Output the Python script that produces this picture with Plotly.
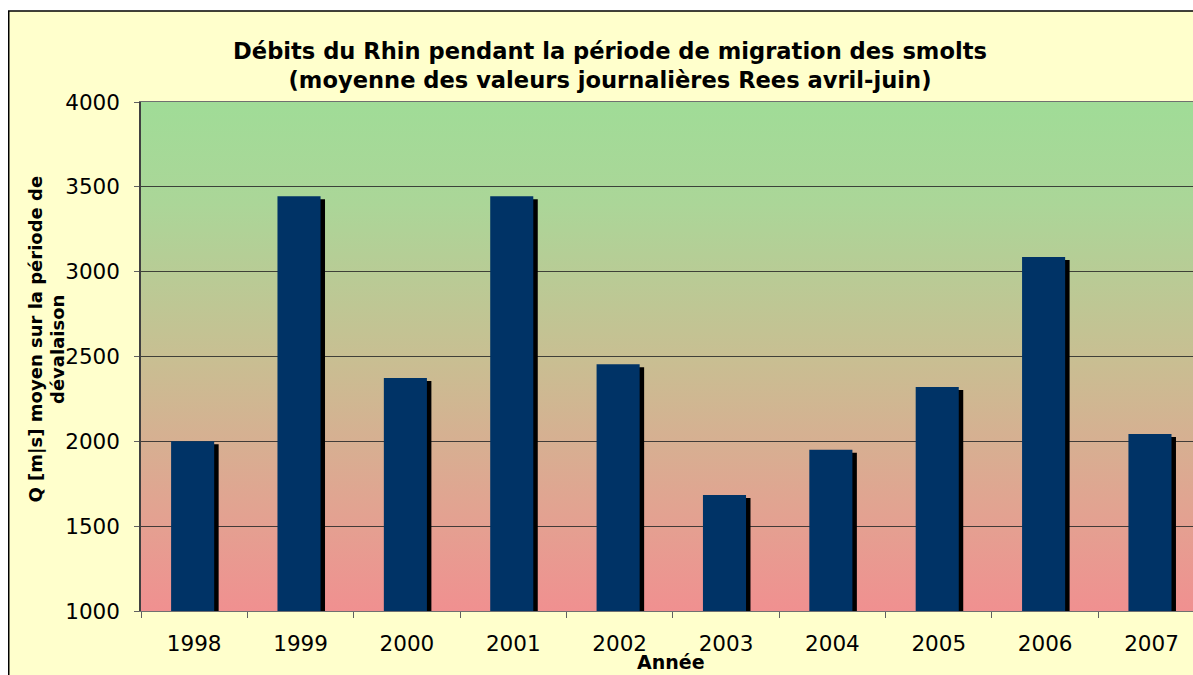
import base64
import plotly.graph_objects as go

# ---- data ----
years = ["1998", "1999", "2000", "2001", "2002", "2003", "2004", "2005", "2006", "2007"]
debits = [2000, 3445, 2373, 3445, 2455, 1684, 1950, 2320, 3086, 2043]
y_ticks = [1000, 1500, 2000, 2500, 3000, 3500, 4000]

title_text = ("Débits du Rhin pendant la période de migration des smolts<br>"
              "(moyenne des valeurs journalières Rees avril-juin)")
y_title_1 = "Q [m|s] moyen sur la période de"
y_title_2 = "dévalaison"
x_title = "Année"

# ---- layout geometry (window pixels, body margin removed) ----
W, H = 1193, 675
ML, MR, MT, MB = 141, 0, 102, 64
PW, PH = W - ML - MR, H - MT - MB
YMIN, YMAX = 1000, 4000
FONT = "DejaVu Sans"


def px_x(px):
    return (px - ML) / PW


def px_y(py):
    return (H - MB - py) / PH


shadow_dy = 3 * (YMAX - YMIN) / PH  # 3 px downward shadow

# gradient background as svg
svg = (
    '<svg xmlns="http://www.w3.org/2000/svg" width="100" height="100" '
    'viewBox="0 0 100 100" preserveAspectRatio="none">'
    '<defs><linearGradient id="g" x1="0" y1="0" x2="0" y2="1">'
    '<stop offset="0" stop-color="#A0DC97"/>'
    '<stop offset="0.2" stop-color="#ABD698"/>'
    '<stop offset="0.5" stop-color="#C8BF92"/>'
    '<stop offset="0.8" stop-color="#E2A391"/>'
    '<stop offset="1" stop-color="#F09090"/>'
    '</linearGradient></defs>'
    '<rect x="0" y="0" width="100" height="100" fill="url(#g)"/></svg>'
)
svg_uri = "data:image/svg+xml;base64," + base64.b64encode(svg.encode()).decode()

fig = go.Figure()

# shadow bars
fig.add_trace(go.Bar(
    x=years, y=debits, base=[-shadow_dy] * len(debits),
    width=0.405, offset=-0.175,
    marker=dict(color="#000000", line=dict(width=0)),
    hoverinfo="skip", showlegend=False,
))
# main bars
fig.add_trace(go.Bar(
    x=years, y=debits,
    width=0.405, offset=-0.217,
    marker=dict(color="#003366", line=dict(width=0)),
    showlegend=False,
))

fig.update_layout(
    width=W, height=H,
    margin=dict(l=ML, r=MR, t=MT, b=MB, pad=0),
    paper_bgcolor="#FFFFCC",
    plot_bgcolor="rgba(0,0,0,0)",
    barmode="overlay",
    font=dict(family=FONT, color="#000000", size=21.5),
    title=dict(
        text=title_text, x=610 / W, xanchor="center",
        y=1 - 59 / H, yanchor="middle", yref="container",
        font=dict(family=FONT, size=22.6, color="#000000", weight="bold"),
    ),
    xaxis=dict(
        type="category", range=[-0.5, 9.39],
        tickson="boundaries", ticks="outside", ticklen=6, tickcolor="#606060",
        showgrid=False, showline=True, linecolor="#707070", linewidth=1,
        mirror=True, ticklabelstandoff=13,
        tickfont=dict(size=21.5),
    ),
    yaxis=dict(
        range=[YMIN, YMAX], tickvals=y_ticks,
        ticks="outside", ticklen=5, tickcolor="#606060",
        showgrid=True, gridcolor="rgba(40,40,40,0.85)", gridwidth=1,
        showline=True, linecolor="#404040", linewidth=1.5,
        zeroline=False, ticklabelstandoff=10,
        tickfont=dict(size=21.5),
    ),
    images=[dict(
        source=svg_uri, xref="paper", yref="paper", x=0, y=1,
        sizex=1, sizey=1, xanchor="left", yanchor="top",
        sizing="stretch", layer="below",
    )],
    annotations=[
        dict(text=y_title_1, textangle=-90, showarrow=False,
             xref="paper", yref="paper", x=px_x(35), y=px_y(505),
             xanchor="center", yanchor="bottom",
             font=dict(family=FONT, size=18, weight="bold", color="#000000")),
        dict(text=y_title_2, textangle=-90, showarrow=False,
             xref="paper", yref="paper", x=px_x(57), y=px_y(350),
             xanchor="center", yanchor="middle",
             font=dict(family=FONT, size=18, weight="bold", color="#000000")),
        dict(text=x_title, showarrow=False,
             xref="paper", yref="paper", x=px_x(671), y=px_y(662),
             xanchor="center", yanchor="middle",
             font=dict(family=FONT, size=19, weight="bold", color="#000000")),
    ],
    shapes=[
        dict(type="rect", xref="paper", yref="paper",
             x0=px_x(-5), x1=px_x(8), y0=px_y(H + 5), y1=px_y(-5),
             fillcolor="#FFFFFF", line=dict(width=0), layer="below"),
        dict(type="rect", xref="paper", yref="paper",
             x0=px_x(-5), x1=px_x(W + 5), y0=px_y(11), y1=px_y(-5),
             fillcolor="#FFFFFF", line=dict(width=0), layer="below"),
        dict(type="line", xref="paper", yref="paper",
             x0=px_x(8.75), x1=px_x(8.75), y0=px_y(H + 5), y1=px_y(11),
             line=dict(color="#000000", width=1.5)),
        dict(type="line", xref="paper", yref="paper",
             x0=px_x(8), x1=px_x(W + 5), y0=px_y(11), y1=px_y(11),
             line=dict(color="#000000", width=1.5)),
    ],
)

fig.write_html(
    "out.html",
    config={"displayModeBar": False},
    post_script=("document.body.style.margin='0';"
                 "document.documentElement.style.overflow='hidden';"
                 "document.body.style.overflow='hidden';"),
)
